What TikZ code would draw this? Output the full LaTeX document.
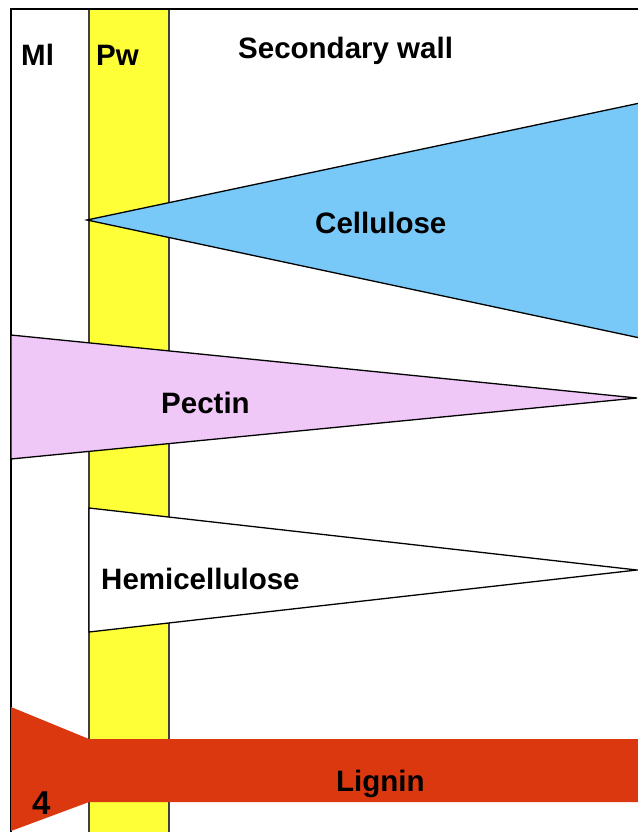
\documentclass[tikz,border=0pt]{standalone}
\usepackage{fontspec}
\setmainfont{Liberation Sans}
\definecolor{pwyellow}{HTML}{FFFF38}
\definecolor{celblue}{HTML}{78C8F8}
\definecolor{pecpink}{HTML}{F0C8F8}
\definecolor{ligred}{HTML}{DB3810}
\tikzset{
  lbl/.style={font=\fontsize{29.5}{32}\selectfont\bfseries, text=black, inner sep=0pt, anchor=base west},
  edge/.style={draw=black, line width=1.3pt, line join=miter},
}
\begin{document}
\begin{tikzpicture}[x=1pt,y=-1pt]
\useasboundingbox (0,0) rectangle (637,832);
\fill[white] (0,0) rectangle (637,832);
% primary wall strip
\draw[fill=pwyellow, draw=black!75, line width=1.3pt] (89,9) rectangle (169,834);
% outer frame
\draw[line width=1.5pt] (11,834) -- (11,9) -- (640,9);
% cellulose
\coordinate (ca) at (87,220);
\coordinate (cb) at (640,103);
\coordinate (cc) at (640,338);
\draw[edge, fill=celblue] (ca) -- (cb) -- (cc) -- cycle;
% pectin
\coordinate (pa) at (11,335);
\coordinate (pb) at (637,398);
\coordinate (pc) at (11,459);
\draw[edge, fill=pecpink] (pa) -- (pb) -- (pc) -- cycle;
% hemicellulose
\coordinate (ha) at (89,508);
\coordinate (hb) at (637,570);
\coordinate (hc) at (89,632);
\draw[edge, fill=white] (ha) -- (hb) -- (hc) -- cycle;
% lignin
\fill[ligred] (11,707) -- (89,739) -- (640,739) -- (640,802) -- (89,802) -- (11,831) -- cycle;
% labels
\node[lbl] (ml) at (21,66) {Ml};
\node[lbl] (pw) at (96,66) {Pw};
\node[lbl] (sw) at (238,59) {Secondary wall};
\node[lbl] (cel) at (315,233) {Cellulose};
\node[lbl] (pec) at (161,413) {Pectin};
\node[lbl] (hem) at (101,589) {Hemicellulose};
\node[lbl] (lig) at (336,791) {Lignin};
\node[lbl, font=\fontsize{33}{35}\selectfont\bfseries] (four) at (32,814) {4};
\end{tikzpicture}
\end{document}
